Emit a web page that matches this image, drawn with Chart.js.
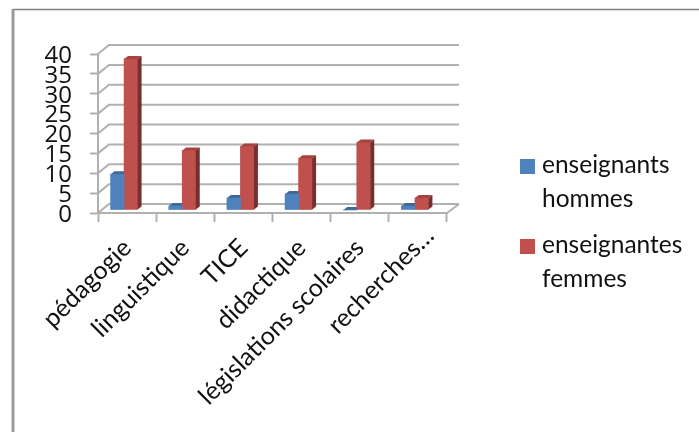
<!DOCTYPE html>
<html><head><meta charset="utf-8">
<style>html,body{margin:0;padding:0;background:#fff;overflow:hidden}#w{width:699px;height:432px;position:relative}canvas{filter:blur(.45px)}</style>
<script src="https://cdn.jsdelivr.net/npm/chart.js@4"></script></head>
<body><div id="w"><canvas id="c" width="699" height="432"></canvas></div>
<script>
const categories=["pédagogie","linguistique","TICE","didactique","législations scolaires","recherches…"];
const hommes=[9,1,3,4,0,1];
const femmes=[38,15,16,13,17,3];
const legendHommes=["enseignants","hommes"];
const legendFemmes=["enseignantes","femmes"];
const yTicks=[0,5,10,15,20,25,30,35,40];
const GRID="#b0b0b0",DX=11,DY=9,BX=-3,BY=-3,SX=4,SY=3;
const shade=[["#4F81BD","#3F6797","#2f4e73"],["#C0504D","#A8423F","#7a2e2c"]];
function extras(c,meta,i){
  meta.data.forEach(b=>{
   const l=b.x-b.width/2,r=b.x+b.width/2,t=b.y,bt=b.base;
   c.fillStyle=shade[i][1];c.beginPath();c.moveTo(l,t);c.lineTo(l+SX,t-SY);c.lineTo(r+SX,t-SY);c.lineTo(r,t);c.closePath();c.fill();
   c.fillStyle=shade[i][2];c.beginPath();c.moveTo(r,t);c.lineTo(r+SX,t-SY);c.lineTo(r+SX,bt-SY);c.lineTo(r,bt);c.closePath();c.fill();
  });}
function nudgeLabels(s,fn){
  const orig=s._computeLabelItems;
  s._computeLabelItems=function(a){const items=orig.call(this,a);items.forEach((it,k)=>fn(it,k,items.length));return items;};
}
const pseudo3d={id:"pseudo3d",
 beforeDraw(ch){const c=ch.ctx;c.save();c.strokeStyle="#808080";c.lineWidth=1.5;
  c.beginPath();c.moveTo(699,9.5);c.lineTo(13,9.5);c.stroke();
  c.strokeStyle="#999";c.lineWidth=3;c.beginPath();c.moveTo(13,9);c.lineTo(13,432);c.stroke();c.restore();},
 beforeDatasetsDraw(ch){const c=ch.ctx,y=ch.scales.y,a=ch.chartArea;
  c.save();c.strokeStyle=GRID;c.lineWidth=2;
  yTicks.forEach(v=>{const p=y.getPixelForValue(v);
   c.beginPath();c.moveTo(a.left,p);c.lineTo(a.left+DX,p-DY);c.lineTo(a.right+DX+1,p-DY);
   if(v===0){c.moveTo(a.right,p);c.lineTo(a.right+DX+1,p-DY);}
   c.stroke();});
  c.restore();
  c.save();c.translate(BX,BY);
  extras(c,ch.getDatasetMeta(0),0);},
 afterDatasetDraw(ch,args){if(args.index===1)extras(ch.ctx,args.meta,1);},
 afterDatasetsDraw(ch){ch.ctx.restore();},
 afterDraw(ch){const c=ch.ctx;c.save();c.font="24.5px Lato";c.textBaseline="alphabetic";
  [[legendHommes,0,159,173,207],[legendFemmes,1,239,253,287]].forEach(([t,i,by,a,b])=>{
   c.fillStyle=shade[i][0];c.fillRect(520,by,15,15);
   c.fillStyle="#111";c.fillText(t[0],542,a);c.fillText(t[1],542,b);});
  c.restore();}
};
new Chart(document.getElementById("c"),{type:"bar",
 data:{labels:categories,datasets:[
  {label:"enseignants hommes",data:hommes,backgroundColor:shade[0][0],barThickness:13.5,clip:false},
  {label:"enseignantes femmes",data:femmes,backgroundColor:shade[1][0],barThickness:13.5,clip:false}]},
 options:{responsive:false,animation:false,
  layout:{padding:{left:0,top:54,right:699-447,bottom:0}},
  plugins:{tooltip:{enabled:false},legend:{display:false}},
  scales:{
   x:{grid:{drawOnChartArea:false,color:GRID,tickColor:GRID,tickLength:9,tickWidth:2},border:{color:GRID,width:2},
    ticks:{font:{family:"Lato",size:25},color:"#111",maxRotation:45,minRotation:45,autoSkip:false,padding:11},
    afterFit(s){s.height=432-213;},
    afterUpdate(s){if(!s._nudged){s._nudged=true;nudgeLabels(s,(it,k,n)=>{if(k===n-1){it.options.translation[0]+=12;it.options.translation[1]-=12;}});}}},
   y:{min:0,max:40,grid:{drawOnChartArea:false,color:GRID,tickColor:GRID,tickLength:8,tickWidth:2},border:{color:GRID,width:2},
    ticks:{stepSize:5,autoSkip:false,font:{family:"Open Sans",size:24},color:"#111",padding:18},
    afterFit(s){s.width=98;},
    afterUpdate(s){if(!s._nudged){s._nudged=true;nudgeLabels(s,(it)=>{it.options.translation[1]+=2;});}}}
  }},
 plugins:[pseudo3d]});
</script></body></html>
